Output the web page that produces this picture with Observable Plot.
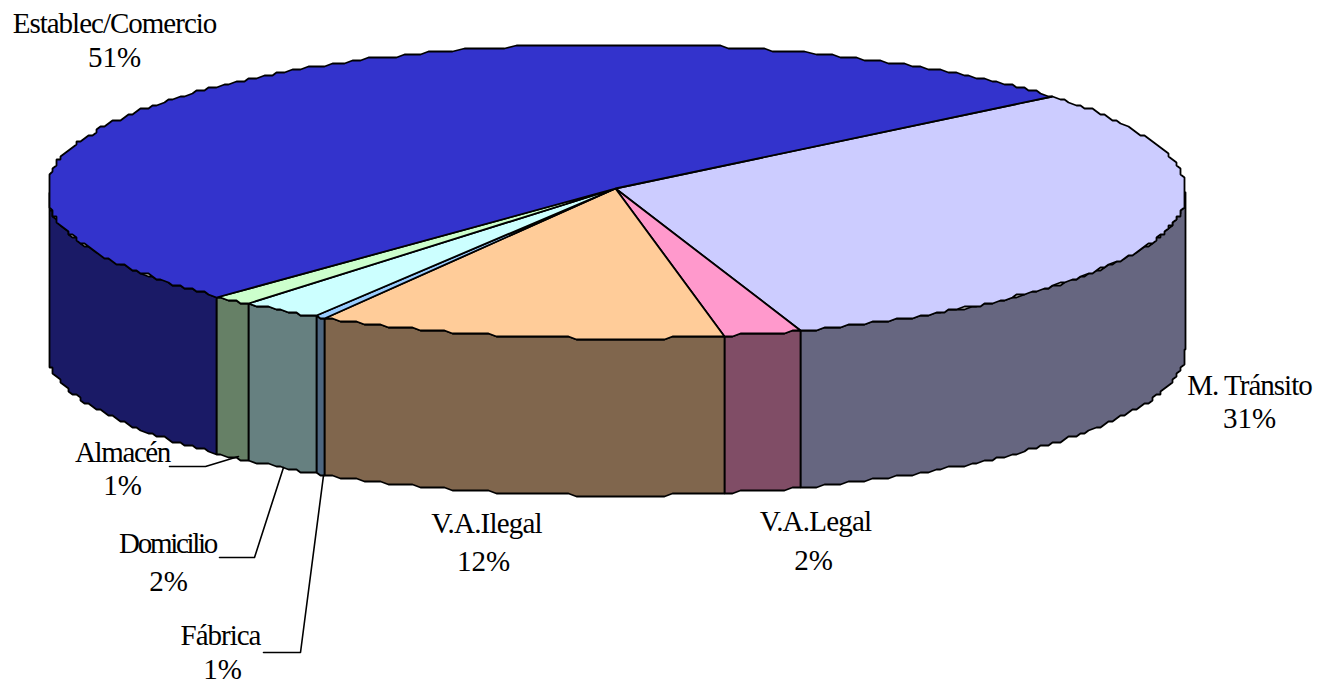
<!DOCTYPE html>
<html>
<head>
<meta charset="utf-8">
<script src="https://cdn.jsdelivr.net/npm/d3@7"></script>
<script src="https://cdn.jsdelivr.net/npm/@observablehq/plot@0.6"></script>
<style>html,body{margin:0;padding:0;background:#fff}svg{display:block}</style>
</head>
<body>
<div id="chart"></div>
<script>
// Data, in clockwise order starting at the M. Tránsito / Establec boundary
const categories = ["M. Tránsito", "V.A.Legal", "V.A.Ilegal", "Fábrica", "Domicilio", "Almacén", "Establec/Comercio"];
const shares = [30.9, 2.2, 11.55, 0.3, 2.3, 1.25, 51.5];
const percentLabels = ["31%", "2%", "12%", "1%", "2%", "1%", "51%"]; // printed labels
const topColors = ["#CCCCFF", "#FF99CC", "#FFCC99", "#99CCFF", "#CCFFFF", "#CCFFCC", "#3333CC"];
const sideColors = ["#666680", "#804D66", "#80664D", "#4D6680", "#668080", "#668066", "#1A1A66"];

// Label layout
const nameX = [1249, 815, 486, 220, 167, 122, 114];
const nameY = [385, 521, 523, 635, 543, 452, 23];
const pctX = [1249, 813, 483, 222, 168, 122, 114];
const pctY = [418, 560, 561, 669, 581, 485, 57];
const nameTracking = [-1, -0.8, -0.8, -1, -2.3, -1.4, -1];

// Leader lines
const leaderNames = ["Almacén", "Almacén", "Almacén", "Domicilio", "Domicilio", "Domicilio", "Fábrica", "Fábrica", "Fábrica"];
const leaderX = [169, 205, 238, 219, 254, 283, 263, 300, 323];
const leaderY = [466, 466, 456, 557, 557, 467, 652, 652, 475];

// Pie projection
const pie = {cx: 617, cy: 191, hubX: 615, hubY: 188, rxL: 572, rxR: 569, ry: 147, depth: 157, minX: 49, maxX: 1185, start: -40};
const gridX = 4, gridY = 3;

function rim(deg, drop = 0) {
  const a = deg * Math.PI / 180, c = Math.cos(a), s = Math.sin(a);
  let x = pie.cx + (c < 0 ? pie.rxL : pie.rxR) * c;
  let y = pie.cy + pie.ry * s;
  x = Math.max(pie.minX, Math.min(pie.maxX, Math.round(x / gridX) * gridX));
  y = Math.round(y / gridY) * gridY;
  return {x, y: y + drop};
}
function arc(a0, a1) {
  const out = [];
  const n = Math.max(1, Math.ceil(Math.abs(a1 - a0) / 0.9));
  for (let i = 0; i <= n; ++i) out.push(a0 + (a1 - a0) * i / n);
  return out;
}

const topFaces = [], sideFaces = [];
let angle = pie.start;
shares.forEach((v, i) => {
  const a0 = angle, a1 = angle + v * 3.6;
  angle = a1;
  const name = categories[i];
  const top = [{x: pie.hubX, y: pie.hubY}, ...arc(a0, a1).map(d => rim(d)), {x: pie.hubX, y: pie.hubY}];
  top.forEach(p => topFaces.push({...p, name, fill: topColors[i]}));
  const lo = Math.max(a0, 0), hi = Math.min(a1, 180);
  if (lo < hi) {
    const A = arc(lo, hi);
    const poly = [...A.map(d => rim(d)), ...A.slice().reverse().map(d => rim(d, pie.depth))];
    poly.push(poly[0]);
    poly.forEach(p => sideFaces.push({...p, name, fill: sideColors[i]}));
  }
});

const leaders = leaderX.map((x, i) => ({x, y: leaderY[i], name: leaderNames[i]}));
const labels = categories.map((name, i) => ({name, pct: percentLabels[i], nx: nameX[i], ny: nameY[i], px: pctX[i], py: pctY[i]}));

const textStyle = {fontFamily: "'Liberation Serif', serif", fontSize: 29, fill: "#000", textAnchor: "middle", lineAnchor: "middle"};

const chart = Plot.plot({
  width: 1319, height: 684,
  marginTop: 0, marginRight: 0, marginBottom: 0, marginLeft: 0,
  style: {background: "#fff"},
  x: {domain: [0, 1319], range: [0, 1319], axis: null},
  y: {domain: [0, 684], range: [0, 684], axis: null},
  color: {type: "identity"},
  marks: [
    Plot.line(sideFaces, {x: "x", y: "y", z: "name", fill: "fill", stroke: "#000", strokeWidth: 1.8, strokeLinejoin: "miter"}),
    Plot.line(topFaces, {x: "x", y: "y", z: "name", fill: "fill", stroke: "#000", strokeWidth: 1.8, strokeLinejoin: "miter"}),
    Plot.line(leaders, {x: "x", y: "y", z: "name", stroke: "#000", strokeWidth: 1.6}),
    Plot.text(labels, {x: "nx", y: "ny", text: "name", ...textStyle, className: "nm"}),
    Plot.text(labels, {x: "px", y: "py", text: "pct", ...textStyle})
  ]
});
d3.select(chart).selectAll(".nm text").each(function() {
  const i = categories.indexOf(this.textContent);
  this.style.letterSpacing = nameTracking[i] + "px";
});
document.getElementById("chart").append(chart);
</script>
</body>
</html>
